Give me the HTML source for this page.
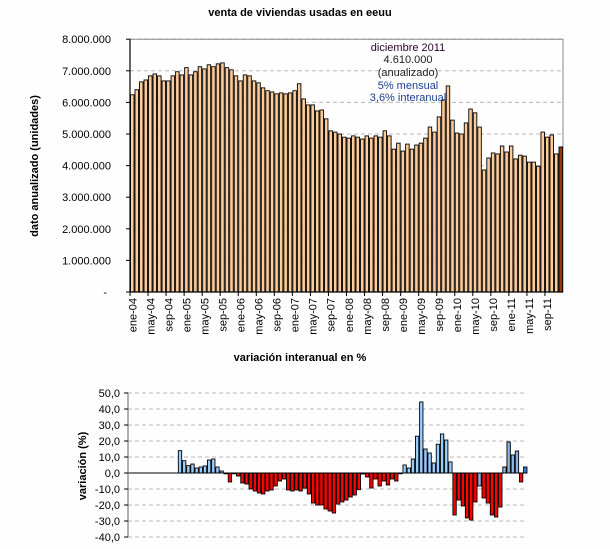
<!DOCTYPE html>
<html><head><meta charset="utf-8"><style>
html,body{margin:0;padding:0;background:#fff;}
svg{display:block;font-family:"Liberation Sans",Arial,sans-serif;}
</style></head><body>
<svg id="s" width="610" height="549" xmlns="http://www.w3.org/2000/svg">
<rect width="610" height="549" fill="#fdfefd"/>
<text x="300" y="16" font-size="11" font-weight="bold" text-anchor="middle">venta de viviendas usadas en eeuu</text>
<text transform="translate(38,166) rotate(-90)" font-size="11" font-weight="bold" text-anchor="middle">dato anualizado (unidades)</text>
<text x="300" y="361" font-size="11" font-weight="bold" text-anchor="middle">variación interanual en %</text>
<text transform="translate(86,466) rotate(-90)" font-size="11" font-weight="bold" text-anchor="middle">variación (%)</text>
<g id="top"></g><g id="bot"></g>
<g font-size="11" text-anchor="middle">
<text x="408" y="51" fill="#330033">diciembre 2011</text>
<text x="408" y="63" fill="#222">4.610.000</text>
<text x="408" y="76" fill="#222">(anualizado)</text>
<text x="408" y="89" fill="#1f3f8f">5% mensual</text>
<text x="408" y="101" fill="#1f3f8f">3,6% interanual</text>
</g>
</svg>
<script>
var NS="http://www.w3.org/2000/svg";
function el(p,t,a,txt){var e=document.createElementNS(NS,t);for(var k in a)e.setAttribute(k,a[k]);if(txt!=null)e.textContent=txt;p.appendChild(e);return e;}
var T=document.getElementById("top"),B=document.getElementById("bot");
var x0=130,x1=563,yb=292,ppm=31.6;
for(var i=1;i<=8;i++){var y=yb-i*ppm;el(T,"line",{x1:x0,x2:x1,y1:y,y2:y,stroke:"#b8b8b8","stroke-dasharray":"4,3"});}
el(T,"rect",{x:x0,y:yb-8*ppm,width:x1-x0,height:8*ppm,fill:"none",stroke:"#888"});
var v=[6.24,6.40,6.65,6.71,6.84,6.90,6.84,6.68,6.68,6.84,6.97,6.87,7.10,6.87,6.97,7.13,7.06,7.19,7.13,7.22,7.25,7.10,7.03,6.84,6.68,6.87,6.84,6.68,6.62,6.46,6.37,6.33,6.27,6.30,6.27,6.30,6.37,6.59,6.11,5.92,5.92,5.73,5.76,5.48,5.10,5.06,5.00,4.90,4.87,4.94,4.90,4.84,4.94,
4.87,4.94,4.90,5.10,4.94,4.52,4.71,4.46,4.68,4.52,4.65,4.71,4.87,5.22,5.06,5.54,6.08,6.52,5.44,5.03,5.00,5.35,5.79,5.67,5.22,3.86,4.24,4.40,4.37,4.62,4.43,4.62,4.21,4.33,4.30,4.11,4.11,3.98,5.06,4.90,4.97,4.37,4.59];
var w=(x1-x0)/96;
for(var i=0;i<96;i++){var h=v[i]*ppm;el(T,"rect",{x:(x0+i*w+0.5).toFixed(2),y:(yb-h).toFixed(2),width:(w-1).toFixed(2),height:h.toFixed(2),fill:i==95?"#9a3a05":"#ffcc99",stroke:"#000","stroke-width":0.9});}
el(T,"line",{x1:x0,x2:x0,y1:yb-8*ppm,y2:yb,stroke:"#000","stroke-width":1.2});
el(T,"line",{x1:x0,x2:x1,y1:yb,y2:yb,stroke:"#000","stroke-width":1.2});
var yl=["-","1.000.000","2.000.000","3.000.000","4.000.000","5.000.000","6.000.000","7.000.000","8.000.000"];
for(var i=0;i<=8;i++){var y=yb-i*ppm;el(T,"line",{x1:x0-4,x2:x0,y1:y,y2:y,stroke:"#000"});el(T,"text",{x:i==0?107:111,y:y+4,"font-size":11,"text-anchor":"end"},yl[i]);}
var mm=["ene","may","sep"];
for(var k=0;k<24;k++){var xt=x0+k*4*w;el(T,"line",{x1:xt,x2:xt,y1:yb,y2:yb+4,stroke:"#000"});
var lab=mm[k%3]+"-"+String(4+Math.floor(k/3)).padStart(2,"0");
el(T,"text",{transform:"translate("+(xt+w/2+4).toFixed(1)+",298) rotate(-90)","font-size":11,"text-anchor":"end"},lab);}
var bx0=128,bx1=527,z=473,pp=1.6;
for(var g=-40;g<=50;g+=10){if(g==0)continue;var y=z-g*pp;el(B,"line",{x1:bx0,x2:bx1,y1:y,y2:y,stroke:"#b8b8b8","stroke-dasharray":"4,3"});}
var d=[14.0,7.7,4.6,5.6,3.1,3.75,4.4,8.1,8.75,3.75,1.25,-0.5,-5.6,-0.5,-1.9,-6.25,-6.9,-10,-11.25,-12.5,-13.1,-11.25,-10.6,-8.1,-5,-3.75,-10.6,-11.25,-10.6,-11.25,-9.4,-13.1,-18.75,-20,-20,-22.5,-23.75,-25,-19.4,-18.1,-16.9,-15,-13.75,
-10.4,-0.6,-2.5,-9.4,-3.75,-8.1,-5,-7.5,-3.75,-5,-0.5,5,3.1,8.75,23,44.4,15,12.5,6.25,18,24.4,20.6,6.9,-26.25,-16.9,-20.6,-28.1,-29.4,-18.1,-8.1,-15.6,-18.75,-26.25,-27.5,-21.25,3.75,19.4,11.25,13.75,-5.6,3.75];
var bw=4.16,bs=bx0+12*bw;
for(var i=0;i<84;i++){var val=d[i],h=Math.abs(val)*pp,y=val>=0?z-h:z;
var c=val>=0?"#99ccff":"#ff0000";if(i>=78&&val>=0)c="#8db3e2";if(i==72)c="#8db3e2";if(i==83)c="#3b78d0";
el(B,"rect",{x:(bs+i*bw+0.4).toFixed(2),y:y.toFixed(2),width:(bw-0.8).toFixed(2),height:Math.max(h,0.5).toFixed(2),fill:c,stroke:"#000","stroke-width":0.9});}
el(B,"line",{x1:bx0,x2:bx1,y1:z,y2:z,stroke:"#000","stroke-width":1});
el(B,"line",{x1:bx0,x2:bx0,y1:z-50*pp,y2:z+40*pp,stroke:"#666","stroke-width":1});
for(var g=-40;g<=50;g+=10){var y=z-g*pp;el(B,"line",{x1:bx0-4,x2:bx0,y1:y,y2:y,stroke:"#000"});
el(B,"text",{x:120,y:y+4,"font-size":11,"text-anchor":"end"},g.toFixed(1).replace(".",","));}
</script>
</body></html>
